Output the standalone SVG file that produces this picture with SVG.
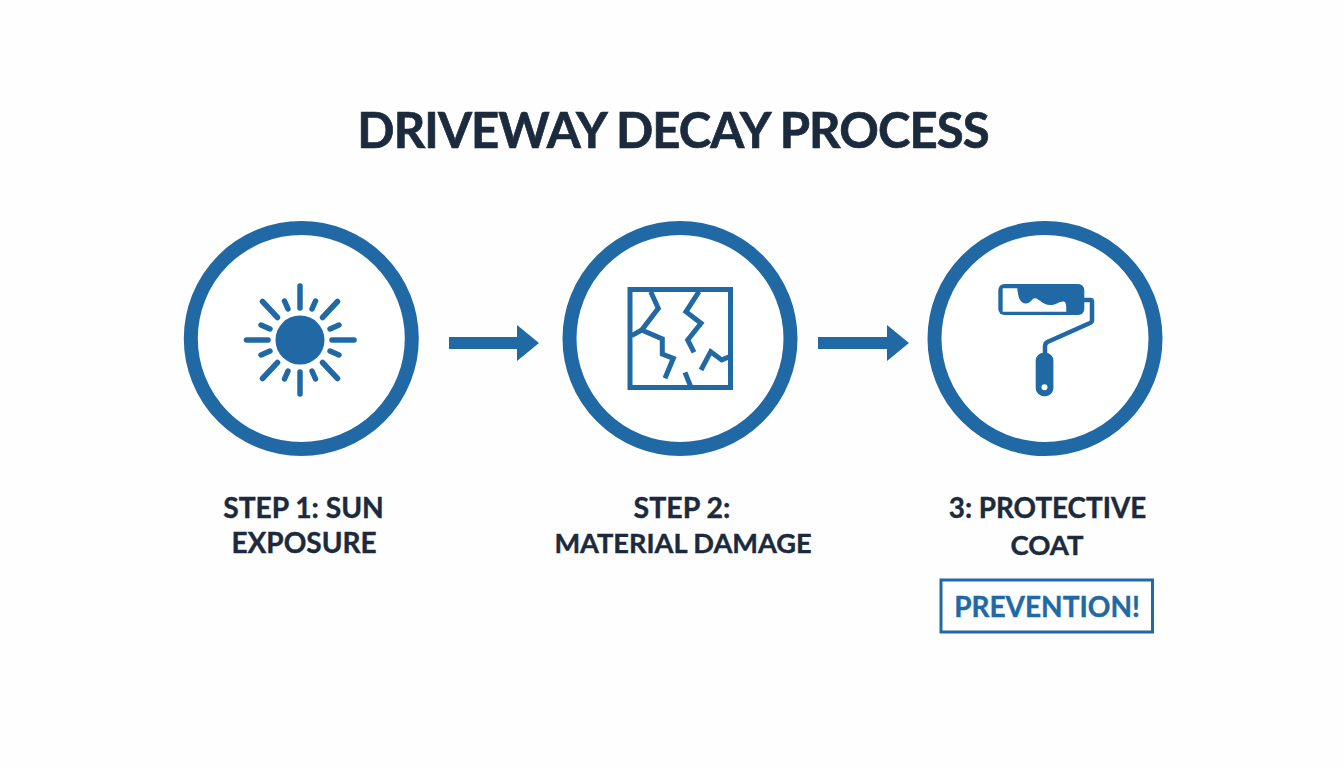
<svg xmlns="http://www.w3.org/2000/svg" width="1344" height="768" viewBox="0 0 1344 768">
<style>
.ring{fill:#fff;stroke:#2169a5;stroke-width:14}
.ray{stroke:#2169a5;stroke-width:5.500;stroke-linecap:round;fill:none}
.crack{stroke:#2169a5;stroke-width:5;fill:none;stroke-linejoin:miter}
.ttl{font-family:Lato,"Liberation Sans",sans-serif;font-weight:700;fill:#1b2a3c;stroke:#1b2a3c;stroke-width:0.400;text-anchor:middle}
.lbl{font-size:27.500px}
.arrow{fill:#2169a5}
</style>
<rect width="1344" height="768" fill="#fefefe"/>
<text id="title" class="ttl" x="673" y="148" font-size="49" letter-spacing="-0.900" style="stroke-width:0.700">DRIVEWAY DECAY PROCESS</text>
<g id="connectors">
<path class="arrow" d="M449 337H517V325L539 343L517 361V349H449Z"/>
<path class="arrow" d="M818 337H887V325L909 343L887 361V349H818Z"/>
</g>
<g id="step1">
<circle class="ring" cx="301.300" cy="338.500" r="110.500"/>
<circle cx="300" cy="340" r="24.500" fill="#2169a5"/>
<path class="ray" d="M300 286V308M300 372V394M246.500 340H268M332 340H354M262.500 301.500L277.500 317.500M337.500 301.500L322.500 317.500M262.500 378.500L277.500 362.500M337.500 378.500L322.500 362.500M284.500 301L288 309M315.500 301L312 309M284.500 379L288 371M315.500 379L312 371M261 325L270 329M339 325L330 329M261 355L270 351M339 355L330 351"/>
<text class="ttl" x="303.500" y="517.500" font-size="28.200">STEP 1: SUN</text>
<text class="ttl" x="304" y="553" font-size="28">EXPOSURE</text>
</g>
<g id="step2">
<circle class="ring" cx="680" cy="338.500" r="110.500"/>
<rect x="630" y="289.500" width="100.500" height="98" fill="none" stroke="#2169a5" stroke-width="5"/>
<path class="crack" d="M650.700 291.700L658.300 308.300L641.700 330L631.700 335.700M641.700 330L662.300 339V354L673.300 358.300L665 378.300"/>
<path class="crack" d="M699 291.700L686 311.700L701 323.300L687.700 340L694 352.300"/>
<path class="crack" d="M701 370L710.700 351.700L721.700 360L729.300 356.700"/>
<path class="crack" d="M685 372.300L690.700 386.700"/>
<text class="ttl" x="682" y="517.500" font-size="28.500">STEP 2:</text>
<text class="ttl" x="683" y="553" font-size="27.200">MATERIAL DAMAGE</text>
</g>
<g id="step3">
<circle class="ring" cx="1045" cy="338.500" r="110.500"/>
<rect x="998.300" y="284" width="86" height="31" rx="6" fill="#2169a5"/>
<path d="M1002.700 288.300H1017.300C1018 297 1020 303 1025 303.500C1031 304 1032 298 1035 298.300C1039 298.500 1043 305 1050 305C1057 305 1059 301 1064 301.500C1067 303 1066 308 1066.300 311.700H1002.700Z" fill="#fff"/>
<path d="M1084 300H1090.500Q1092 300 1092 302V320.500Q1092 322 1090 323L1047.500 342Q1045 343.500 1045 346V354" fill="none" stroke="#2169a5" stroke-width="4.500"/>
<rect x="1035.700" y="352.700" width="17.700" height="43.500" rx="8" fill="#2169a5"/>
<circle cx="1044.500" cy="387.300" r="3" fill="#fff"/>
<text class="ttl" x="1047.500" y="517.500" font-size="27.800">3: PROTECTIVE</text>
<text class="ttl lbl" x="1047" y="554.500">COAT</text>
<rect x="941" y="580" width="211.500" height="52" fill="none" stroke="#2169a5" stroke-width="3"/>
<text x="1047" y="617" font-family="Lato,'Liberation Sans',sans-serif" font-weight="700" font-size="28" fill="#2169a5" stroke="#2169a5" stroke-width="0.400" text-anchor="middle">PREVENTION!</text>
</g>
</svg>
